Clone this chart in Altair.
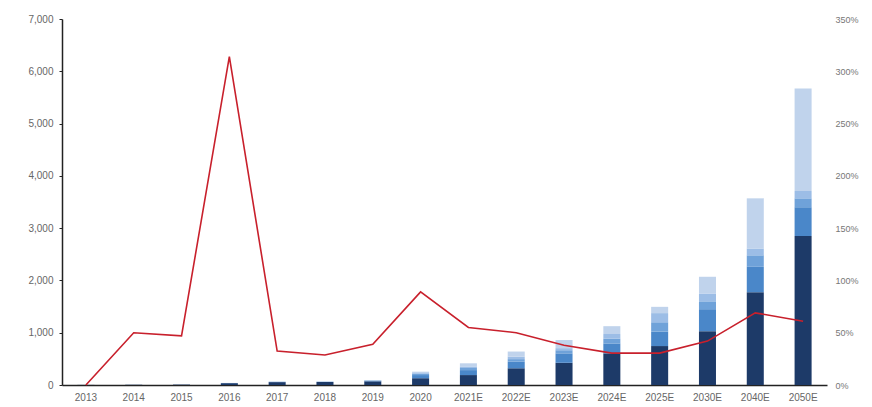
import altair as alt
import pandas as pd

# Categories (years; E = estimate)
years = ["2013", "2014", "2015", "2016", "2017", "2018", "2019", "2020",
         "2021E", "2022E", "2023E", "2024E", "2025E", "2030E", "2040E", "2050E"]

# Stacked components, bottom to top
seg1 = [2, 5, 8, 35, 55, 55, 70, 130, 190, 320, 425, 605, 745, 1030, 1775, 2850]
seg2 = [0, 0, 0, 3, 5, 6, 12, 60, 95, 125, 180, 190, 275, 420, 485, 550]
seg3 = [0, 0, 0, 0, 2, 2, 5, 25, 40, 50, 60, 90, 180, 150, 220, 170]
seg4 = [0, 0, 0, 0, 0, 0, 3, 15, 30, 45, 40, 90, 175, 150, 130, 140]
seg5 = [0, 0, 0, 2, 3, 3, 5, 25, 60, 100, 155, 150, 120, 320, 960, 1960]

# Growth rate (right axis)
growth = [0.00, 0.50, 0.47, 3.14, 0.325, 0.287, 0.39, 0.89, 0.55, 0.50,
          0.38, 0.305, 0.305, 0.42, 0.69, 0.61]

seg_names = ["s1", "s2", "s3", "s4", "s5"]
seg_colors = ["#1d3a68", "#4a87c9", "#6fa2d9", "#9cbde6", "#c0d3ec"]

rows = []
for i, y in enumerate(years):
    for k, vals in enumerate([seg1, seg2, seg3, seg4, seg5]):
        rows.append({"year": y, "seg": seg_names[k], "idx": k, "value": vals[i]})
bars_df = pd.DataFrame(rows)
line_df = pd.DataFrame({"year": years, "growth": growth})

x_enc = alt.X(
    "year:N",
    sort=years,
    scale=alt.Scale(paddingInner=0.644, paddingOuter=0.322),
    axis=alt.Axis(title=None, labelAngle=0, ticks=False, domainColor="#222222",
                  domainWidth=1.5, labelPadding=7, labelFont="Liberation Sans",
                  labelFontSize=10, labelColor="#666666"),
)

bars = alt.Chart(bars_df).mark_bar().encode(
    x=x_enc,
    y=alt.Y(
        "sum(value):Q",
        scale=alt.Scale(domain=[0, 7000], nice=False),
        axis=alt.Axis(title=None, values=list(range(0, 7001, 1000)), format=",.0f",
                      grid=False, tickSize=3, tickColor="#222222",
                      domainColor="#222222", domainWidth=1.5, labelPadding=6,
                      labelFont="Liberation Sans", labelFontSize=10,
                      labelColor="#666666"),
    ),
    color=alt.Color("seg:N", scale=alt.Scale(domain=seg_names, range=seg_colors),
                    legend=None),
    order=alt.Order("idx:Q", sort="ascending"),
)

line = alt.Chart(line_df).mark_line(color="#c8202c", strokeWidth=1.6).encode(
    x=alt.X("year:N", sort=years),
    y=alt.Y(
        "growth:Q",
        scale=alt.Scale(domain=[0, 3.5], nice=False),
        axis=alt.Axis(title=None, orient="right", values=[0, 0.5, 1, 1.5, 2, 2.5, 3, 3.5],
                      format=".0%", grid=False, ticks=False, domain=False,
                      labelPadding=8, labelFont="Liberation Sans", labelFontSize=9,
                      labelColor="#777777"),
    ),
)

chart = (
    alt.layer(bars, line)
    .resolve_scale(y="independent")
    .properties(
        width=765,
        height=366,
        background="white",
        autosize=alt.AutoSizeParams(type="none"),
        padding={"left": 62, "top": 19, "right": 45, "bottom": 22},
    )
    .configure_view(strokeWidth=0, stroke="transparent")
)

chart.save("out.html", embed_options={"renderer": "svg", "actions": False})
